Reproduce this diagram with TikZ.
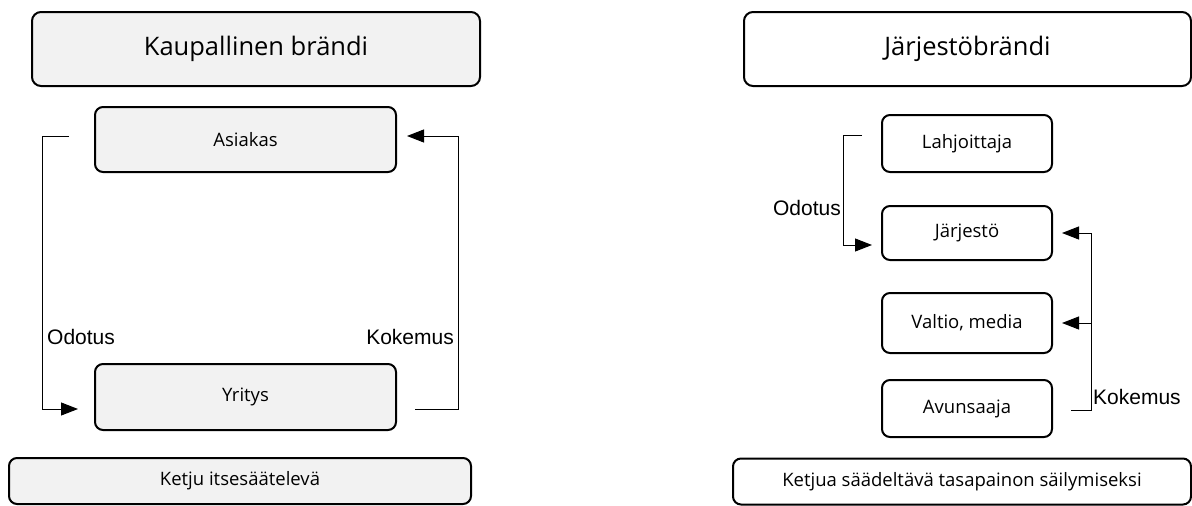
\documentclass[tikz,border=0pt]{standalone}
\usepackage{fontspec}
\setmainfont{Open Sans}
\newfontfamily\labelfont{Liberation Sans}
\usetikzlibrary{arrows.meta, positioning, calc}

\definecolor{boxgray}{HTML}{F2F2F2}

\begin{document}
\begin{tikzpicture}[
  x=1pt, y=-1pt,
  % ---- styles ----
  brand/.style = {
    rectangle, draw=black, line width=2pt,
    rounded corners=9pt,
    minimum width=447pt, minimum height=74pt,
    font=\fontsize{25.5}{30}\selectfont
  },
  actor/.style = {
    rectangle, draw=black, line width=2pt,
    rounded corners=8pt,
    font=\fontsize{18.5}{22}\selectfont
  },
  chain/.style = {
    rectangle, draw=black, line width=2pt,
    rounded corners=8pt,
    minimum height=46pt,
    font=\fontsize{18.5}{22}\selectfont
  },
  flow/.style = {-{Triangle[length=17pt, width=13pt]}, line width=1pt},
  plain/.style = {line width=1pt},
  flowlabel/.style = {font=\labelfont\fontsize{21}{25}\selectfont, inner sep=1pt}
]
\useasboundingbox (0,0) rectangle (1192,506);

% ============ KAUPALLINEN ============

\node[brand, fill=boxgray, minimum width=448pt] (kaup) at (256, 49) {Kaupallinen brändi};

\node[actor, fill=boxgray, minimum width=301pt, minimum height=65pt] (asiakas) at (245.5, 139.5) {Asiakas};
\node[actor, fill=boxgray, minimum width=301pt, minimum height=66pt] (yritys)  at (245.5, 397)   {Yritys};

\node[chain, fill=boxgray, minimum width=462pt] (ketju) at (240, 481) {Ketju itsesäätelevä};

% odotus: asiakas -> yritys
\coordinate (oLs) at ([xshift=-25pt, yshift=3.5pt]asiakas.west);
\coordinate (oL) at ([xshift=-27pt]oLs);
\draw[flow, shorten >=16pt] (oLs) -- (oL) |- ([yshift=-12pt]yritys.west);
\node[flowlabel, anchor=west] (odotusL) at (46, 337) {Odotus};

% kokemus: yritys -> asiakas
\coordinate (kLs) at ([xshift=18pt, yshift=-12pt]yritys.east);
\coordinate (kL) at ([xshift=43pt]kLs);
\draw[flow, shorten >=10pt] (kLs) -- (kL) |- ([yshift=3.5pt]asiakas.east);
\node[flowlabel, anchor=east] (kokemusL) at (455, 337) {Kokemus};

% ============ JÄRJESTÖ ============

\node[brand, fill=white] (jarjb) at (967.5, 49) {Järjestöbrändi};

\node[actor, fill=white, minimum width=170pt, minimum height=57pt] (lahj)   at (967, 143.5) {Lahjoittaja};
\node[actor, fill=white, minimum width=170pt, minimum height=54pt] (jarj)   at (967, 233)   {Järjestö};
\node[actor, fill=white, minimum width=170pt, minimum height=60pt] (valtio) at (967, 323)   {Valtio, media};
\node[actor, fill=white, minimum width=170pt, minimum height=57pt] (avun)   at (967, 408.5) {Avunsaaja};

\node[chain, fill=white, minimum width=458pt] (ketjua) at (962, 481.5) {Ketjua säädeltävä tasapainon säilymiseksi};

% odotus: lahjoittaja -> järjestö
\coordinate (oRs) at ([xshift=-19pt, yshift=8.5pt]lahj.west);
\coordinate (oR) at ([xshift=-19pt]oRs);
\draw[flow, shorten >=9pt] (oRs) -- (oR) |- ([yshift=-12pt]jarj.west);
\node[flowlabel, anchor=east] (odotusR) at (842, 208) {Odotus};

% kokemus: avunsaaja -> järjestö, valtio
\coordinate (kRs) at ([xshift=18pt, yshift=-1.5pt]avun.east);
\coordinate (kR) at ([xshift=20pt]kRs);
\draw[plain] (kRs) -- (kR) -- (kR |- jarj.east);
\draw[flow, shorten >=9pt] (kR |- jarj.east) -- (jarj.east);
\draw[flow, shorten >=9pt] (kR |- valtio.east) -- (valtio.east);
\node[flowlabel, anchor=west] (kokemusR) at (1092, 397) {Kokemus};

\end{tikzpicture}
\end{document}
